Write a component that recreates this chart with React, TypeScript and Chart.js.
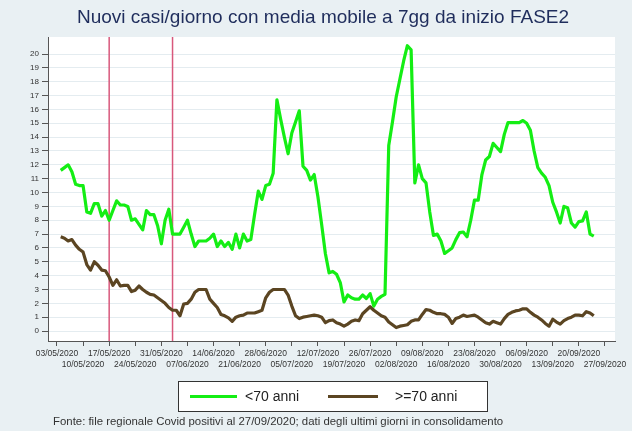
import React, { useEffect, useRef } from 'react';
import { Chart, registerables } from 'chart.js';

Chart.register(...registerables);

const titleText = 'Nuovi casi/giorno con media mobile a 7gg da inizio FASE2';
const footerText = 'Fonte: file regionale Covid positivi al 27/09/2020; dati degli ultimi giorni in consolidamento';

// Weekly tick labels (day offsets 0, 7, 14, ... from 03/05/2020)
const tickLabels = [
  '03/05/2020', '10/05/2020', '17/05/2020', '24/05/2020', '31/05/2020', '07/06/2020',
  '14/06/2020', '21/06/2020', '28/06/2020', '05/07/2020', '12/07/2020', '19/07/2020',
  '26/07/2020', '02/08/2020', '09/08/2020', '16/08/2020', '23/08/2020', '30/08/2020',
  '06/09/2020', '13/09/2020', '20/09/2020', '27/09/2020',
];

// First data point is 04/05/2020 (day offset 1)
const firstDay = 1;

const seriesLabels = ['<70 anni', '>=70 anni'];

const under70 = [
  11.6, 11.8, 12.0, 11.5, 10.6, 10.5, 10.5, 8.6, 8.5, 9.2,
  9.2, 8.3, 8.7, 8.0, 8.7, 9.4, 9.1, 9.1, 9.0, 8.0,
  8.1, 7.7, 7.3, 8.7, 8.4, 8.4, 7.6, 6.3, 8.0, 8.8,
  7.0, 7.0, 7.0, 7.5, 8.0, 7.0, 6.1, 6.5, 6.5, 6.5,
  6.7, 7.0, 6.1, 6.5, 6.1, 6.4, 5.9, 7.0, 6.0, 7.0,
  6.5, 6.6, 8.4, 10.1, 9.5, 10.5, 10.6, 11.4, 16.7, 15.3,
  14.0, 12.8, 14.3, 15.1, 15.9, 11.9, 11.6, 10.9, 11.3, 9.7,
  7.7, 5.6, 4.2, 4.3, 4.1, 3.5, 2.1, 2.6, 2.4, 2.3,
  2.3, 2.6, 2.35, 2.7, 1.8, 2.3, 2.5, 2.65, 13.4, 15.1,
  16.9, 18.2, 19.5, 20.6, 20.3, 10.7, 12.0, 11.0, 10.7, 8.6,
  6.9, 7.0, 6.5, 5.6, 5.8, 6.0, 6.6, 7.1, 7.15, 6.8,
  8.0, 9.45, 9.45, 11.3, 12.35, 12.6, 13.55, 13.25, 12.95, 14.2,
  15.05, 15.05, 15.05, 15.05, 15.2, 15.0, 14.5, 13.0, 11.8, 11.4,
  11.1, 10.5, 9.3, 8.6, 7.8, 9.0, 8.9, 7.8, 7.5, 7.9,
  7.95, 8.6, 7.0, 6.85,
];

const over70 = [
  6.8, 6.7, 6.5, 6.6, 6.2, 5.9, 5.7, 4.8, 4.4, 5.0,
  4.75, 4.4, 4.35, 3.9, 3.3, 3.7, 3.25, 3.3, 3.3, 2.85,
  2.95, 3.25, 3.0, 2.8, 2.65, 2.6, 2.4, 2.2, 2.0, 1.7,
  1.5, 1.5, 1.1, 1.95, 2.0, 2.3, 2.8, 3.0, 3.0, 3.0,
  2.3, 2.0, 1.7, 1.2, 1.1, 0.95, 0.7, 1.0, 1.1, 1.15,
  1.3, 1.3, 1.3, 1.4, 1.5, 2.4, 2.8, 3.0, 3.0, 3.0,
  3.0, 2.6, 1.8, 1.1, 0.9, 1.0, 1.05, 1.1, 1.15, 1.1,
  1.0, 0.6, 0.75, 0.8, 0.6, 0.5, 0.35, 0.5, 0.7, 0.8,
  0.75, 1.25, 1.5, 1.75, 1.5, 1.3, 1.1, 1.0, 0.65, 0.45,
  0.25, 0.35, 0.4, 0.45, 0.7, 0.8, 0.8, 1.2, 1.55, 1.5,
  1.35, 1.25, 1.25, 1.2, 1.0, 0.55, 0.9, 1.0, 1.15, 1.05,
  1.1, 1.15, 1.0, 0.8, 0.6, 0.5, 0.7, 0.6, 0.5, 0.9,
  1.2, 1.35, 1.45, 1.5, 1.6, 1.6, 1.35, 1.15, 1.0, 0.8,
  0.55, 0.35, 0.85, 0.65, 0.5, 0.75, 0.9, 1.0, 1.15, 1.15,
  1.1, 1.4, 1.3, 1.1,
];

// Phase markers (day offsets from 03/05/2020): 17/05 and 03/06
const phaseDays = [14, 31];

const yTickValues = [0, 1, 2, 3, 4, 5, 6, 7, 8, 9, 10, 11, 12, 13, 14, 15, 16, 17, 18, 19, 20];

const BG = '#e9f0f3';
const GREEN = '#14ee14';
const BROWN = '#5b4522';
const FONT = '"Liberation Sans", Arial, sans-serif';

const decorPlugin = {
  id: 'decor',
  beforeDraw(chart: any) {
    const { ctx, chartArea: a, width, height } = chart;
    ctx.save();
    ctx.fillStyle = BG;
    ctx.fillRect(0, 0, width, height);
    ctx.fillStyle = '#ffffff';
    ctx.fillRect(a.left, a.top, a.right - a.left, a.bottom - a.top);
    ctx.restore();
  },
  beforeDatasetsDraw(chart: any) {
    const { ctx, chartArea: a } = chart;
    const xs = chart.scales.x;
    ctx.save();
    ctx.strokeStyle = '#d8587c';
    ctx.lineWidth = 1.5;
    phaseDays.forEach((d) => {
      const px = xs.getPixelForValue(d);
      ctx.beginPath();
      ctx.moveTo(px, a.top);
      ctx.lineTo(px, a.bottom);
      ctx.stroke();
    });
    ctx.restore();
  },
  afterDraw(chart: any) {
    const { ctx } = chart;
    ctx.save();
    // title
    ctx.fillStyle = '#1f2d5c';
    ctx.font = `19px ${FONT}`;
    ctx.textAlign = 'center';
    ctx.textBaseline = 'middle';
    ctx.fillText(titleText, 323, 18);

    // legend box
    const bx = 178.5, by = 381.5, bw = 309, bh = 30;
    ctx.fillStyle = '#ffffff';
    ctx.fillRect(bx, by, bw, bh);
    ctx.strokeStyle = '#333333';
    ctx.lineWidth = 1;
    ctx.strokeRect(bx, by, bw, bh);
    const ly = by + bh / 2;
    const items = chart.data.datasets.map((ds: any, i: number) => ({
      label: ds.label,
      color: ds.borderColor,
      x0: i === 0 ? 190 : 328,
      x1: i === 0 ? 237 : 378,
      tx: i === 0 ? 245 : 395,
    }));
    ctx.font = `14px ${FONT}`;
    ctx.textAlign = 'left';
    items.forEach((it: any) => {
      ctx.strokeStyle = it.color;
      ctx.lineWidth = 3;
      ctx.beginPath();
      ctx.moveTo(it.x0, ly);
      ctx.lineTo(it.x1, ly);
      ctx.stroke();
      ctx.fillStyle = '#222222';
      ctx.fillText(it.label, it.tx, ly + 0.5);
    });

    // footer
    ctx.font = `11.4px ${FONT}`;
    ctx.fillStyle = '#333333';
    ctx.fillText(footerText, 53, 422);
    ctx.restore();
  },
};

export default function App() {
  const canvasRef = useRef<HTMLCanvasElement | null>(null);

  useEffect(() => {
    document.body.style.margin = '0';
    const canvas = canvasRef.current;
    if (!canvas) return;

    const toPoints = (arr: number[]) => arr.map((v, i) => ({ x: firstDay + i, y: v }));
    const weekTicks = tickLabels.map((_, i) => i * 7);

    const chart = new Chart(canvas, {
      type: 'line',
      data: {
        datasets: [
          {
            label: seriesLabels[0],
            data: toPoints(under70),
            borderColor: GREEN,
            backgroundColor: GREEN,
            borderWidth: 3.2,
            pointRadius: 0,
            tension: 0,
            borderJoinStyle: 'round',
          },
          {
            label: seriesLabels[1],
            data: toPoints(over70),
            borderColor: BROWN,
            backgroundColor: BROWN,
            borderWidth: 3.2,
            pointRadius: 0,
            tension: 0,
            borderJoinStyle: 'round',
          },
        ],
      },
      options: {
        responsive: false,
        animation: false,
        devicePixelRatio: 1,
        layout: { padding: { left: 0, top: 37, right: 17, bottom: 0 } },
        plugins: {
          legend: { display: false },
          title: { display: false },
          tooltip: { enabled: false },
        },
        scales: {
          x: {
            type: 'linear',
            min: -2.41,
            max: 149.7,
            afterBuildTicks: (scale: any) => {
              scale.ticks = weekTicks.map((v) => ({ value: v }));
            },
            afterFit: (scale: any) => {
              scale.height = 90;
            },
            ticks: {
              autoSkip: false,
              maxRotation: 0,
              minRotation: 0,
              padding: 2,
              color: '#333333',
              font: { family: FONT, size: 8.5, lineHeight: 1.3 },
              callback: (value: any) => {
                const idx = weekTicks.indexOf(Number(value));
                if (idx < 0) return '';
                const lbl = tickLabels[idx];
                return idx % 2 === 0 ? [lbl, ''] : ['', lbl];
              },
            },
            grid: {
              drawOnChartArea: false,
              drawTicks: true,
              tickLength: 5,
              tickColor: '#555555',
              tickWidth: 1,
            },
            border: { color: '#555555', width: 1 },
          },
          y: {
            type: 'linear',
            min: -0.72,
            max: 21.23,
            afterBuildTicks: (scale: any) => {
              scale.ticks = yTickValues.map((v) => ({ value: v }));
            },
            afterFit: (scale: any) => {
              scale.width = 48;
            },
            ticks: {
              padding: 3,
              color: '#333333',
              font: { family: FONT, size: 8 },
              callback: (value: any) => String(value),
            },
            grid: {
              color: '#e4ecf0',
              lineWidth: 1,
              drawTicks: true,
              tickLength: 6,
              tickColor: '#555555',
            },
            border: { color: '#555555', width: 1 },
          },
        },
      },
      plugins: [decorPlugin],
    } as any);

    return () => {
      chart.destroy();
    };
  }, []);

  return (
    <div style={{ width: 632, height: 431, position: 'relative' }}>
      <canvas ref={canvasRef} width={632} height={431} style={{ display: 'block' }} />
    </div>
  );
}
